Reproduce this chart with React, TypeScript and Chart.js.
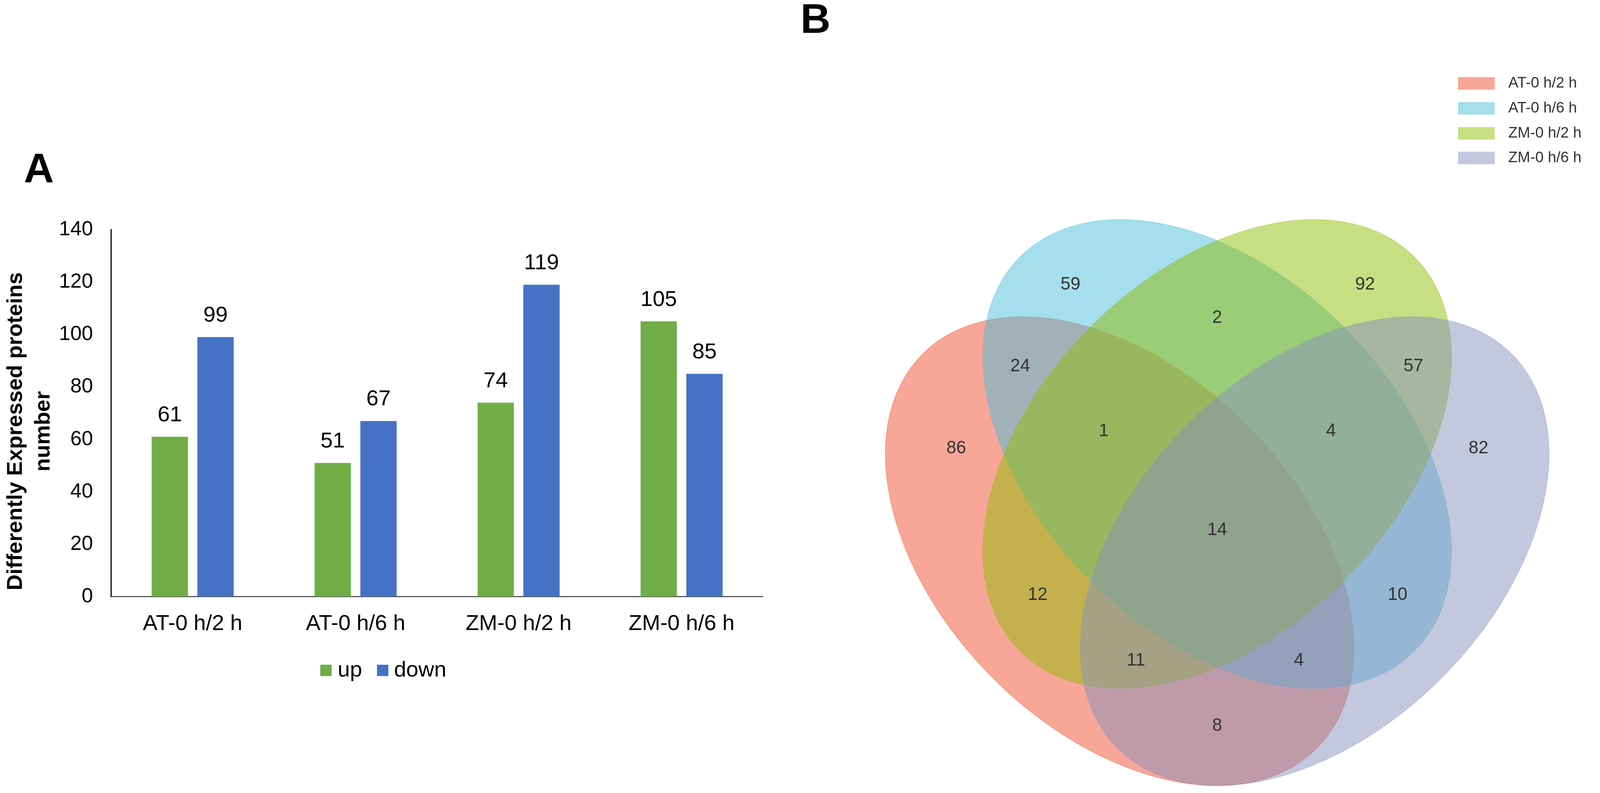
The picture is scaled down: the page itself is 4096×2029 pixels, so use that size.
import React, { useEffect, useRef } from 'react';
import { Chart, registerables } from 'chart.js';

Chart.register(...registerables);

// ---------- scale & fonts ----------
const S = 0.968;
const px = (v: number) => v * S;
const FONT = '"Liberation Sans", Arial, Helvetica, sans-serif';

// ---------- Panel A data ----------
const categories = ['AT-0 h/2 h', 'AT-0 h/6 h', 'ZM-0 h/2 h', 'ZM-0 h/6 h'];
const seriesNames = ['up', 'down'];
const upValues = [61, 51, 74, 105];
const downValues = [99, 67, 119, 85];
const yMin = 0;
const yMax = 140;
const yStep = 20;
const yAxisTitle = ['Differently Expressed proteins', 'number'];
const seriesColors = ['#70AD47', '#4472C4'];

// ---------- Panel B data ----------
const vennSetNames = ['AT-0 h/2 h', 'AT-0 h/6 h', 'ZM-0 h/2 h', 'ZM-0 h/6 h'];
const vennRegions = ['A', 'B', 'C', 'D', 'AB', 'BC', 'CD', 'ABC', 'BCD', 'AC', 'BD', 'ABCD', 'ACD', 'ABD', 'AD'];
const vennCounts = [86, 59, 92, 82, 24, 2, 57, 1, 4, 12, 10, 14, 11, 4, 8];
const vennColors = ['rgba(241,77,49,0.5)', 'rgba(75,189,217,0.5)', 'rgba(145,189,5,0.5)', 'rgba(135,145,189,0.5)'];

// ---------- layout (reference pixel units) ----------
const LAYOUT = {
  barCanvasRefW: 2100,
  plotLeft: 294,
  plotRight: 2018,
  plotTop: 607,
  plotBottom: 1577,
  labelGap: 57,
  legendBoxY: 1757,
  legendBox: 30,
  legendBoxX: [847, 997],
  legendTextX: [893, 1042],
  legendTextY: 1772,
  titleX: [58, 131],
  titleY: 1140,
};

// Venn geometry: centers, semi axes, rotation (reference pixel units)
const ELLIPSES = [
  { cx: 2961, cy: 1457, a: 737, b: 474, rot: Math.PI / 4 },
  { cx: 3219, cy: 1200, a: 737, b: 474, rot: Math.PI / 4 },
  { cx: 3219, cy: 1200, a: 737, b: 474, rot: -Math.PI / 4 },
  { cx: 3477, cy: 1457, a: 737, b: 474, rot: -Math.PI / 4 },
];
const VENN_LABEL_POS: [number, number][] = [
  [2529, 1185], [2831, 753], [3610, 753], [3910, 1185],
  [2698, 968], [3219, 840], [3738, 968],
  [2919, 1140], [3520, 1140],
  [2744, 1573], [3696, 1573],
  [3219, 1401],
  [3004, 1746], [3435, 1746],
  [3219, 1919],
];
const VENN_LEGEND = { boxX: 3856, boxW: 97, boxH: 33, tops: [204, 270, 336, 401], textX: 3989 };

const W = 4096;
const H = 2029;

export default function App() {
  const barRef = useRef<HTMLCanvasElement | null>(null);
  const vennRef = useRef<HTMLCanvasElement | null>(null);

  const barW = Math.round(px(LAYOUT.barCanvasRefW));
  const vennW = W - barW;

  useEffect(() => {
    document.body.style.margin = '0';
    document.body.style.background = '#ffffff';

    const barPlugin = {
      id: 'barExtras',
      afterDatasetsDraw(chart: any) {
        const ctx = chart.ctx;
        ctx.save();
        ctx.fillStyle = '#000';
        ctx.textAlign = 'center';
        ctx.textBaseline = 'middle';
        ctx.font = `${px(58)}px ${FONT}`;
        chart.data.datasets.forEach((ds: any, i: number) => {
          const meta = chart.getDatasetMeta(i);
          meta.data.forEach((bar: any, j: number) => {
            ctx.fillText(String(ds.data[j]), bar.x, bar.y - px(LAYOUT.labelGap));
          });
        });
        ctx.restore();
      },
      afterDraw(chart: any) {
        const ctx = chart.ctx;
        ctx.save();
        // Panel letter
        ctx.fillStyle = '#000';
        ctx.font = `bold ${px(110)}px ${FONT}`;
        ctx.textAlign = 'left';
        ctx.textBaseline = 'alphabetic';
        ctx.fillText('A', px(63), px(482));
        // Y title
        ctx.font = `bold ${px(58)}px ${FONT}`;
        ctx.textAlign = 'center';
        yAxisTitle.forEach((line, i) => {
          ctx.save();
          ctx.translate(px(LAYOUT.titleX[i]), px(LAYOUT.titleY));
          ctx.rotate(-Math.PI / 2);
          ctx.fillText(line, 0, 0);
          ctx.restore();
        });
        // Legend
        ctx.font = `${px(58)}px ${FONT}`;
        ctx.textAlign = 'left';
        ctx.textBaseline = 'middle';
        chart.data.datasets.forEach((ds: any, i: number) => {
          ctx.fillStyle = ds.backgroundColor;
          ctx.fillRect(px(LAYOUT.legendBoxX[i]), px(LAYOUT.legendBoxY), px(LAYOUT.legendBox), px(LAYOUT.legendBox));
          ctx.fillStyle = '#000';
          ctx.fillText(ds.label, px(LAYOUT.legendTextX[i]), px(LAYOUT.legendTextY));
        });
        ctx.restore();
      },
    };

    const barChart = new Chart(barRef.current as HTMLCanvasElement, {
      type: 'bar',
      data: {
        labels: categories,
        datasets: [
          { label: seriesNames[0], data: upValues, backgroundColor: seriesColors[0], categoryPercentage: 0.5615, barPercentage: 0.793 },
          { label: seriesNames[1], data: downValues, backgroundColor: seriesColors[1], categoryPercentage: 0.5615, barPercentage: 0.793 },
        ],
      },
      options: {
        responsive: false,
        animation: false,
        events: [],
        layout: {
          padding: { left: 0, top: px(LAYOUT.plotTop), right: barW - px(LAYOUT.plotRight), bottom: 0 },
        },
        scales: {
          x: {
            grid: { display: false, drawTicks: false },
            border: { display: true, color: '#595959', width: px(3) },
            ticks: { color: '#000', font: { family: FONT, size: px(58) }, padding: px(38) },
            afterFit: (s: any) => { s.height = H - px(LAYOUT.plotBottom); },
          },
          y: {
            min: yMin,
            max: yMax,
            grid: { display: false, drawTicks: false },
            border: { display: true, color: '#000', width: px(3) },
            ticks: { stepSize: yStep, color: '#000', font: { family: FONT, size: px(54) }, padding: px(48) },
            afterFit: (s: any) => { s.width = px(LAYOUT.plotLeft); },
          },
        },
        plugins: { legend: { display: false }, tooltip: { enabled: false }, title: { display: false } },
      } as any,
      plugins: [barPlugin],
    });

    const vennPlugin = {
      id: 'vennExtras',
      beforeDatasetsDraw(chart: any) {
        const ctx = chart.ctx;
        const xs = chart.scales.x;
        const ys = chart.scales.y;
        const k = Math.abs(xs.getPixelForValue(1000) - xs.getPixelForValue(0)) / 1000;
        ctx.save();
        ELLIPSES.forEach((e, i) => {
          ctx.beginPath();
          ctx.ellipse(xs.getPixelForValue(e.cx), ys.getPixelForValue(e.cy), e.a * k, e.b * k, e.rot, 0, Math.PI * 2);
          ctx.fillStyle = vennColors[i];
          ctx.fill();
          ctx.lineWidth = 1.5;
          ctx.strokeStyle = vennColors[i];
          ctx.stroke();
        });
        ctx.restore();
      },
      afterDatasetsDraw(chart: any) {
        const ctx = chart.ctx;
        const xs = chart.scales.x;
        const ys = chart.scales.y;
        const meta = chart.getDatasetMeta(0);
        ctx.save();
        ctx.fillStyle = '#333';
        ctx.textAlign = 'center';
        ctx.textBaseline = 'middle';
        ctx.font = `${px(47)}px ${FONT}`;
        meta.data.forEach((pt: any, i: number) => {
          ctx.fillText(String(vennCounts[i]), pt.x, pt.y);
        });
        // legend
        ctx.font = `${px(40)}px ${FONT}`;
        ctx.textAlign = 'left';
        vennSetNames.forEach((name, i) => {
          const top = VENN_LEGEND.tops[i];
          const x0 = xs.getPixelForValue(VENN_LEGEND.boxX);
          const x1 = xs.getPixelForValue(VENN_LEGEND.boxX + VENN_LEGEND.boxW);
          const y0 = ys.getPixelForValue(top);
          const y1 = ys.getPixelForValue(top + VENN_LEGEND.boxH);
          ctx.fillStyle = vennColors[i];
          ctx.fillRect(x0, y0, x1 - x0, y1 - y0);
          ctx.fillStyle = '#333';
          ctx.fillText(name, xs.getPixelForValue(VENN_LEGEND.textX), (y0 + y1) / 2);
        });
        // panel letter
        ctx.fillStyle = '#000';
        ctx.font = `bold ${px(110)}px ${FONT}`;
        ctx.textBaseline = 'alphabetic';
        ctx.fillText('B', xs.getPixelForValue(2117), ys.getPixelForValue(87));
        ctx.restore();
      },
    };

    const vennChart = new Chart(vennRef.current as HTMLCanvasElement, {
      type: 'scatter',
      data: {
        datasets: [
          {
            label: 'regions',
            data: VENN_LABEL_POS.map((p, i) => ({ x: p[0], y: p[1], r: vennRegions[i] })) as any,
            pointRadius: 0,
            pointHoverRadius: 0,
          },
        ],
      },
      options: {
        responsive: false,
        animation: false,
        events: [],
        layout: { padding: 0 },
        scales: {
          x: { type: 'linear', display: false, min: barW / S, max: W / S },
          y: { type: 'linear', display: false, min: 0, max: H / S, reverse: true },
        },
        plugins: { legend: { display: false }, tooltip: { enabled: false } },
      } as any,
      plugins: [vennPlugin],
    });

    return () => {
      barChart.destroy();
      vennChart.destroy();
    };
  }, []);

  return (
    <div style={{ position: 'relative', width: W, height: H, background: '#fff', overflow: 'hidden' }}>
      <canvas ref={barRef} width={barW} height={H} style={{ position: 'absolute', left: 0, top: 0, width: barW, height: H }} />
      <canvas ref={vennRef} width={vennW} height={H} style={{ position: 'absolute', left: barW, top: 0, width: vennW, height: H }} />
    </div>
  );
}
